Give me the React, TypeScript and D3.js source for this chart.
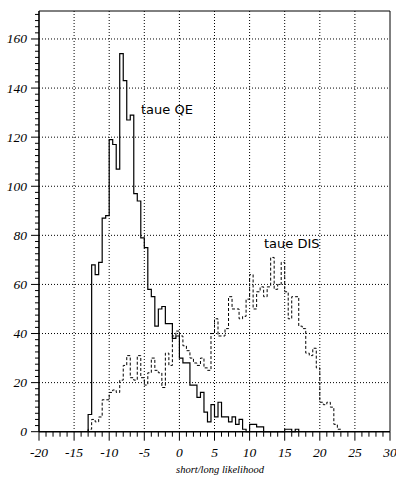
import React from "react";
import * as d3 from "d3";

// histogram binning
const binStart = -13;
const binWidth = 0.5;

// "taue QE" (solid) counts per 0.5 bin starting at -13
const qeCounts = [
  7, 68, 64, 69, 87, 88, 119, 117, 107, 154,
  143, 127, 129, 97, 94, 79, 75, 58, 55, 43,
  50, 51, 44, 44, 38, 39, 30, 28, 28, 19,
  19, 14, 16, 8, 4, 11, 6, 12, 6, 6,
  4, 6, 3, 5, 1, 0, 3, 3, 2, 2,
  0, 0, 0, 0, 0, 0, 1, 1, 0, 1,
];

// "taue DIS" (dashed) counts per 0.5 bin starting at -13
const disCounts = [
  1, 5, 4, 6, 13, 13, 16, 17, 16, 21,
  27, 31, 22, 21, 31, 22, 19, 24, 30, 25,
  24, 18, 32, 27, 39, 41, 39, 35, 33, 30,
  28, 27, 30, 26, 25, 40, 46, 39, 39, 42,
  55, 50, 50, 46, 47, 54, 64, 50, 57, 59,
  55, 59, 71, 58, 60, 69, 57, 46, 55, 55,
  43, 42, 32, 31, 34, 26, 12, 11, 12, 10,
  3, 1,
];

const xTicks = [-20, -15, -10, -5, 0, 5, 10, 15, 20, 25, 30];
const yTicks = [0, 20, 40, 60, 80, 100, 120, 140, 160];
const xLabel = "short/long likelihood";
const qeLabel = "taue QE";
const disLabel = "taue DIS";

const W = 396;
const H = 477;
const left = 39;
const right = 390;
const top = 11;
const bottom = 431.7;

export default function App() {
  const x = d3.scaleLinear().domain([-20, 30]).range([left, right]);
  const y = d3.scaleLinear().domain([0, 171.4]).range([bottom, top]);

  const stepPoints = (counts: number[]) => {
    const pts: [number, number][] = [];
    pts.push([binStart, 0]);
    counts.forEach((c, i) => {
      const x0 = binStart + i * binWidth;
      pts.push([x0, c]);
      pts.push([x0 + binWidth, c]);
    });
    pts.push([binStart + counts.length * binWidth, 0]);
    return pts;
  };

  const line = d3
    .line<[number, number]>()
    .x((d) => x(d[0]))
    .y((d) => y(d[1]));

  const xMinor = d3.range(-20, 30.001, 1);
  const yMinor = d3.range(0, 171.4, 2.5);
  const gridX = xTicks.filter((t) => t > -20 && t < 30);
  const gridY = yTicks.filter((t) => t > 0);

  const serif = "'Liberation Serif', 'DejaVu Serif', serif";
  const sans = "'DejaVu Sans', 'Liberation Sans', sans-serif";

  return (
    <svg
      width={W}
      height={H}
      style={{ position: "absolute", left: 0, top: 0, background: "#fff" }}
    >
      <rect x={0} y={0} width={W} height={H} fill="#fff" />
      {/* grid */}
      {gridX.map((t) => (
        <line
          key={"gx" + t}
          x1={x(t)}
          x2={x(t)}
          y1={top}
          y2={bottom}
          stroke="#000"
          strokeWidth={1}
          strokeDasharray="1,2"
        />
      ))}
      {gridY.map((t) => (
        <line
          key={"gy" + t}
          x1={left}
          x2={right}
          y1={y(t)}
          y2={y(t)}
          stroke="#000"
          strokeWidth={1}
          strokeDasharray="1,2"
        />
      ))}
      {/* histograms */}
      <path
        d={line(stepPoints(disCounts)) || ""}
        fill="none"
        stroke="#000"
        strokeWidth={1}
        strokeDasharray="3,2"
      />
      <path
        d={line(stepPoints(qeCounts)) || ""}
        fill="none"
        stroke="#000"
        strokeWidth={1.2}
      />
      {/* frame */}
      <line x1={left} x2={right} y1={top} y2={top} stroke="#000" strokeWidth={1} />
      <line x1={right} x2={right} y1={top} y2={bottom} stroke="#000" strokeWidth={1} />
      <line x1={left} x2={left} y1={top} y2={bottom} stroke="#000" strokeWidth={1.6} />
      <line x1={left} x2={right} y1={bottom} y2={bottom} stroke="#000" strokeWidth={1.6} />
      {/* x ticks */}
      {xMinor.map((t) => {
        const major = Math.abs(t % 5) < 1e-6;
        return (
          <line
            key={"xt" + t}
            x1={x(t)}
            x2={x(t)}
            y1={bottom}
            y2={bottom + (major ? 9 : 5)}
            stroke="#000"
            strokeWidth={1}
          />
        );
      })}
      {xTicks.map((t) => (
        <text
          key={"xl" + t}
          x={x(t)}
          y={457}
          textAnchor="middle"
          fontFamily={serif}
          fontStyle="italic"
          fontSize={13.5}
          fill="#000"
        >
          {t}
        </text>
      ))}
      {/* y ticks */}
      {yMinor.map((t) => {
        const major = Math.abs(t % 20) < 1e-6;
        return (
          <line
            key={"yt" + t}
            x1={left}
            x2={left - (major ? 8 : 4)}
            y1={y(t)}
            y2={y(t)}
            stroke="#000"
            strokeWidth={1}
          />
        );
      })}
      {yTicks.map((t) => (
        <text
          key={"yl" + t}
          x={27}
          y={y(t) + 4.5}
          textAnchor="end"
          fontFamily={serif}
          fontStyle="italic"
          fontSize={13.5}
          fill="#000"
        >
          {t}
        </text>
      ))}
      {/* axis title */}
      <text
        x={220}
        y={473}
        textAnchor="middle"
        fontFamily={serif}
        fontStyle="italic"
        fontSize={10.5}
        fill="#000"
      >
        {xLabel}
      </text>
      {/* labels */}
      <text x={141} y={114} fontFamily={sans} fontSize={13} fill="#000">
        {qeLabel}
      </text>
      <text x={264} y={248} fontFamily={sans} fontSize={13} fill="#000">
        {disLabel}
      </text>
    </svg>
  );
}
